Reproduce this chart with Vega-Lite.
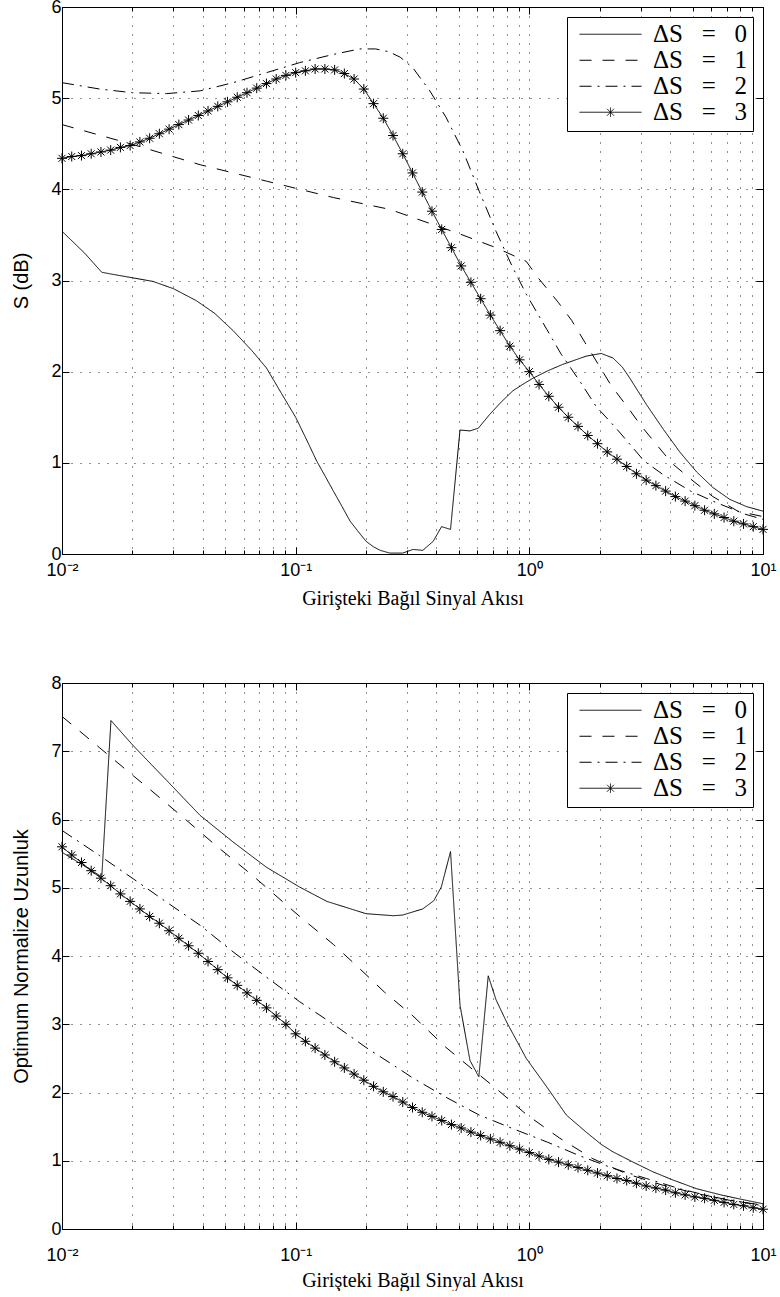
{
"$schema": "https://vega.github.io/schema/vega-lite/v6.json",
"background": "white",
"padding": {"left": 11, "top": -3, "right": 10, "bottom": 0},
"config": {
  "view": {"stroke": "black", "strokeWidth": 1},
  "axis": {"labelFont": "Liberation Sans", "labelFontSize": 18, "labelColor": "black", "titleFont": "Liberation Sans", "titleFontSize": 20, "titleFontWeight": "normal", "titleColor": "black", "domainColor": "black", "tickColor": "black", "gridColor": "#222", "gridDash": [1, 8], "gridOpacity": 1, "gridWidth": 1}
},
"spacing": 64,
"resolve": {"legend": {"strokeDash": "independent"}},
"datasets": {
"top": [
{"s":0,"x":0.01,"y":3.54},{"s":0,"x":0.0125,"y":3.30},{"s":0,"x":0.0148,"y":3.09},{"s":0,"x":0.0163,"y":3.07},{"s":0,"x":0.02,"y":3.03},{"s":0,"x":0.0245,"y":2.99},{"s":0,"x":0.03,"y":2.91},{"s":0,"x":0.0375,"y":2.78},{"s":0,"x":0.045,"y":2.64},{"s":0,"x":0.054,"y":2.45},{"s":0,"x":0.065,"y":2.23},{"s":0,"x":0.075,"y":2.04},{"s":0,"x":0.087,"y":1.76},{"s":0,"x":0.1,"y":1.50},{"s":0,"x":0.112,"y":1.24},{"s":0,"x":0.123,"y":1.02},{"s":0,"x":0.134,"y":0.85},{"s":0,"x":0.145,"y":0.69},{"s":0,"x":0.158,"y":0.52},{"s":0,"x":0.171,"y":0.36},{"s":0,"x":0.186,"y":0.24},{"s":0,"x":0.2,"y":0.14},{"s":0,"x":0.215,"y":0.08},{"s":0,"x":0.23,"y":0.04},{"s":0,"x":0.253,"y":0.01},{"s":0,"x":0.287,"y":0.01},{"s":0,"x":0.318,"y":0.05},{"s":0,"x":0.35,"y":0.04},{"s":0,"x":0.388,"y":0.14},{"s":0,"x":0.421,"y":0.30},{"s":0,"x":0.46,"y":0.27},{"s":0,"x":0.505,"y":1.36},{"s":0,"x":0.557,"y":1.35},{"s":0,"x":0.605,"y":1.38},{"s":0,"x":0.676,"y":1.53},{"s":0,"x":0.76,"y":1.67},{"s":0,"x":0.85,"y":1.79},{"s":0,"x":0.95,"y":1.87},{"s":0,"x":1.04,"y":1.93},{"s":0,"x":1.2,"y":2.01},{"s":0,"x":1.39,"y":2.08},{"s":0,"x":1.75,"y":2.17},{"s":0,"x":2.03,"y":2.20},{"s":0,"x":2.28,"y":2.15},{"s":0,"x":2.5,"y":2.05},{"s":0,"x":2.69,"y":1.93},{"s":0,"x":3.17,"y":1.64},{"s":0,"x":3.74,"y":1.37},{"s":0,"x":4.4,"y":1.12},{"s":0,"x":5.2,"y":0.90},{"s":0,"x":6.1,"y":0.73},{"s":0,"x":7.2,"y":0.60},{"s":0,"x":8.5,"y":0.52},{"s":0,"x":10,"y":0.47},
{"s":1,"x":0.01,"y":4.71},{"s":1,"x":0.0202,"y":4.49},{"s":1,"x":0.039,"y":4.27},{"s":1,"x":0.075,"y":4.09},{"s":1,"x":0.145,"y":3.91},{"s":1,"x":0.253,"y":3.78},{"s":1,"x":0.318,"y":3.69},{"s":1,"x":0.505,"y":3.51},{"s":1,"x":0.72,"y":3.36},{"s":1,"x":0.97,"y":3.21},{"s":1,"x":1.09,"y":3.03},{"s":1,"x":1.33,"y":2.76},{"s":1,"x":1.52,"y":2.56},{"s":1,"x":1.73,"y":2.32},{"s":1,"x":2.25,"y":1.84},{"s":1,"x":2.6,"y":1.63},{"s":1,"x":2.98,"y":1.42},{"s":1,"x":3.5,"y":1.20},{"s":1,"x":4.1,"y":0.99},{"s":1,"x":4.97,"y":0.81},{"s":1,"x":6.1,"y":0.63},{"s":1,"x":7.8,"y":0.47},{"s":1,"x":10,"y":0.41},
{"s":2,"x":0.01,"y":5.17},{"s":2,"x":0.0145,"y":5.10},{"s":2,"x":0.02,"y":5.06},{"s":2,"x":0.028,"y":5.05},{"s":2,"x":0.039,"y":5.08},{"s":2,"x":0.054,"y":5.17},{"s":2,"x":0.075,"y":5.28},{"s":2,"x":0.104,"y":5.39},{"s":2,"x":0.145,"y":5.48},{"s":2,"x":0.188,"y":5.54},{"s":2,"x":0.22,"y":5.54},{"s":2,"x":0.25,"y":5.51},{"s":2,"x":0.28,"y":5.45},{"s":2,"x":0.318,"y":5.33},{"s":2,"x":0.375,"y":5.08},{"s":2,"x":0.44,"y":4.79},{"s":2,"x":0.52,"y":4.42},{"s":2,"x":0.61,"y":3.98},{"s":2,"x":0.72,"y":3.54},{"s":2,"x":0.85,"y":3.14},{"s":2,"x":0.97,"y":2.85},{"s":2,"x":1.19,"y":2.46},{"s":2,"x":1.37,"y":2.19},{"s":2,"x":1.64,"y":1.90},{"s":2,"x":1.93,"y":1.62},{"s":2,"x":2.37,"y":1.37},{"s":2,"x":3.1,"y":1.02},{"s":2,"x":3.74,"y":0.87},{"s":2,"x":4.9,"y":0.69},{"s":2,"x":6.1,"y":0.58},{"s":2,"x":8.3,"y":0.44},{"s":2,"x":10,"y":0.38},
{"s":3,"x":0.01,"y":4.34},{"s":3,"x":0.011007,"y":4.36},{"s":3,"x":0.012115,"y":4.37},{"s":3,"x":0.013335,"y":4.39},{"s":3,"x":0.014678,"y":4.41},{"s":3,"x":0.016156,"y":4.43},{"s":3,"x":0.017783,"y":4.46},{"s":3,"x":0.019573,"y":4.48},{"s":3,"x":0.021544,"y":4.52},{"s":3,"x":0.023714,"y":4.56},{"s":3,"x":0.026102,"y":4.61},{"s":3,"x":0.02873,"y":4.66},{"s":3,"x":0.031623,"y":4.71},{"s":3,"x":0.034807,"y":4.76},{"s":3,"x":0.038312,"y":4.81},{"s":3,"x":0.04217,"y":4.86},{"s":3,"x":0.046416,"y":4.91},{"s":3,"x":0.05109,"y":4.96},{"s":3,"x":0.056234,"y":5.01},{"s":3,"x":0.061897,"y":5.06},{"s":3,"x":0.068129,"y":5.11},{"s":3,"x":0.074989,"y":5.16},{"s":3,"x":0.08254,"y":5.21},{"s":3,"x":0.090852,"y":5.25},{"s":3,"x":0.1,"y":5.28},{"s":3,"x":0.11007,"y":5.30},{"s":3,"x":0.12115,"y":5.32},{"s":3,"x":0.13335,"y":5.32},{"s":3,"x":0.14678,"y":5.31},{"s":3,"x":0.16156,"y":5.27},{"s":3,"x":0.17783,"y":5.21},{"s":3,"x":0.19573,"y":5.10},{"s":3,"x":0.21544,"y":4.94},{"s":3,"x":0.23714,"y":4.78},{"s":3,"x":0.26102,"y":4.59},{"s":3,"x":0.2873,"y":4.39},{"s":3,"x":0.31623,"y":4.18},{"s":3,"x":0.34807,"y":3.97},{"s":3,"x":0.38312,"y":3.76},{"s":3,"x":0.4217,"y":3.56},{"s":3,"x":0.46416,"y":3.36},{"s":3,"x":0.5109,"y":3.16},{"s":3,"x":0.56234,"y":2.98},{"s":3,"x":0.61897,"y":2.80},{"s":3,"x":0.68129,"y":2.62},{"s":3,"x":0.74989,"y":2.45},{"s":3,"x":0.8254,"y":2.28},{"s":3,"x":0.90852,"y":2.13},{"s":3,"x":1.0,"y":2.00},{"s":3,"x":1.1007,"y":1.86},{"s":3,"x":1.2115,"y":1.73},{"s":3,"x":1.3335,"y":1.61},{"s":3,"x":1.4678,"y":1.50},{"s":3,"x":1.6156,"y":1.40},{"s":3,"x":1.7783,"y":1.30},{"s":3,"x":1.9573,"y":1.21},{"s":3,"x":2.1544,"y":1.12},{"s":3,"x":2.3714,"y":1.04},{"s":3,"x":2.6102,"y":0.96},{"s":3,"x":2.873,"y":0.88},{"s":3,"x":3.1623,"y":0.81},{"s":3,"x":3.4807,"y":0.75},{"s":3,"x":3.8312,"y":0.69},{"s":3,"x":4.217,"y":0.63},{"s":3,"x":4.6416,"y":0.58},{"s":3,"x":5.109,"y":0.53},{"s":3,"x":5.6234,"y":0.48},{"s":3,"x":6.1897,"y":0.44},{"s":3,"x":6.8129,"y":0.40},{"s":3,"x":7.4989,"y":0.36},{"s":3,"x":8.254,"y":0.33},{"s":3,"x":9.0852,"y":0.30},{"s":3,"x":10,"y":0.27}
],
"bot": [
{"s":0,"x":0.01,"y":5.52},{"s":0,"x":0.0148,"y":5.16},{"s":0,"x":0.0162,"y":7.45},{"s":0,"x":0.0202,"y":7.08},{"s":0,"x":0.0281,"y":6.57},{"s":0,"x":0.039,"y":6.06},{"s":0,"x":0.054,"y":5.67},{"s":0,"x":0.075,"y":5.30},{"s":0,"x":0.104,"y":5.01},{"s":0,"x":0.136,"y":4.80},{"s":0,"x":0.2,"y":4.62},{"s":0,"x":0.262,"y":4.59},{"s":0,"x":0.287,"y":4.60},{"s":0,"x":0.35,"y":4.69},{"s":0,"x":0.39,"y":4.81},{"s":0,"x":0.42,"y":5.01},{"s":0,"x":0.46,"y":5.53},{"s":0,"x":0.505,"y":3.28},{"s":0,"x":0.557,"y":2.47},{"s":0,"x":0.608,"y":2.23},{"s":0,"x":0.667,"y":3.71},{"s":0,"x":0.72,"y":3.36},{"s":0,"x":0.8,"y":3.03},{"s":0,"x":0.97,"y":2.50},{"s":0,"x":1.2,"y":2.06},{"s":0,"x":1.44,"y":1.67},{"s":0,"x":1.75,"y":1.42},{"s":0,"x":2.03,"y":1.24},{"s":0,"x":2.28,"y":1.13},{"s":0,"x":2.78,"y":0.98},{"s":0,"x":3.37,"y":0.84},{"s":0,"x":4.1,"y":0.72},{"s":0,"x":5.2,"y":0.59},{"s":0,"x":6.6,"y":0.50},{"s":0,"x":7.95,"y":0.44},{"s":0,"x":10,"y":0.37},
{"s":1,"x":0.01,"y":7.51},{"s":1,"x":0.0145,"y":7.05},{"s":1,"x":0.0202,"y":6.64},{"s":1,"x":0.0238,"y":6.44},{"s":1,"x":0.033,"y":6.03},{"s":1,"x":0.0459,"y":5.61},{"s":1,"x":0.0659,"y":5.17},{"s":1,"x":0.0857,"y":4.83},{"s":1,"x":0.104,"y":4.58},{"s":1,"x":0.145,"y":4.17},{"s":1,"x":0.182,"y":3.86},{"s":1,"x":0.24,"y":3.47},{"s":1,"x":0.318,"y":3.12},{"s":1,"x":0.44,"y":2.66},{"s":1,"x":0.59,"y":2.30},{"s":1,"x":0.72,"y":2.06},{"s":1,"x":0.97,"y":1.68},{"s":1,"x":1.35,"y":1.33},{"s":1,"x":1.87,"y":1.03},{"s":1,"x":2.6,"y":0.81},{"s":1,"x":3.74,"y":0.64},{"s":1,"x":5.2,"y":0.52},{"s":1,"x":7.2,"y":0.42},{"s":1,"x":10,"y":0.35},
{"s":2,"x":0.01,"y":5.84},{"s":2,"x":0.0145,"y":5.47},{"s":2,"x":0.0202,"y":5.13},{"s":2,"x":0.028,"y":4.79},{"s":2,"x":0.039,"y":4.45},{"s":2,"x":0.054,"y":4.06},{"s":2,"x":0.075,"y":3.69},{"s":2,"x":0.104,"y":3.33},{"s":2,"x":0.145,"y":3.00},{"s":2,"x":0.2,"y":2.66},{"s":2,"x":0.279,"y":2.34},{"s":2,"x":0.318,"y":2.21},{"s":2,"x":0.44,"y":1.93},{"s":2,"x":0.61,"y":1.67},{"s":2,"x":0.85,"y":1.47},{"s":2,"x":1.2,"y":1.27},{"s":2,"x":1.65,"y":1.07},{"s":2,"x":2.28,"y":0.89},{"s":2,"x":3.17,"y":0.74},{"s":2,"x":4.4,"y":0.59},{"s":2,"x":6.1,"y":0.47},{"s":2,"x":10,"y":0.34},
{"s":3,"x":0.01,"y":5.60},{"s":3,"x":0.011007,"y":5.48},{"s":3,"x":0.012115,"y":5.37},{"s":3,"x":0.013335,"y":5.25},{"s":3,"x":0.014678,"y":5.14},{"s":3,"x":0.016156,"y":5.03},{"s":3,"x":0.017783,"y":4.91},{"s":3,"x":0.019573,"y":4.80},{"s":3,"x":0.021544,"y":4.69},{"s":3,"x":0.023714,"y":4.58},{"s":3,"x":0.026102,"y":4.48},{"s":3,"x":0.02873,"y":4.37},{"s":3,"x":0.031623,"y":4.26},{"s":3,"x":0.034807,"y":4.15},{"s":3,"x":0.038312,"y":4.04},{"s":3,"x":0.04217,"y":3.92},{"s":3,"x":0.046416,"y":3.80},{"s":3,"x":0.05109,"y":3.68},{"s":3,"x":0.056234,"y":3.57},{"s":3,"x":0.061897,"y":3.46},{"s":3,"x":0.068129,"y":3.35},{"s":3,"x":0.074989,"y":3.24},{"s":3,"x":0.08254,"y":3.12},{"s":3,"x":0.090852,"y":3.00},{"s":3,"x":0.1,"y":2.86},{"s":3,"x":0.11007,"y":2.75},{"s":3,"x":0.12115,"y":2.65},{"s":3,"x":0.13335,"y":2.55},{"s":3,"x":0.14678,"y":2.45},{"s":3,"x":0.16156,"y":2.36},{"s":3,"x":0.17783,"y":2.27},{"s":3,"x":0.19573,"y":2.18},{"s":3,"x":0.21544,"y":2.09},{"s":3,"x":0.23714,"y":2.01},{"s":3,"x":0.26102,"y":1.94},{"s":3,"x":0.2873,"y":1.86},{"s":3,"x":0.31623,"y":1.78},{"s":3,"x":0.34807,"y":1.71},{"s":3,"x":0.38312,"y":1.65},{"s":3,"x":0.4217,"y":1.59},{"s":3,"x":0.46416,"y":1.53},{"s":3,"x":0.5109,"y":1.48},{"s":3,"x":0.56234,"y":1.42},{"s":3,"x":0.61897,"y":1.37},{"s":3,"x":0.68129,"y":1.32},{"s":3,"x":0.74989,"y":1.27},{"s":3,"x":0.8254,"y":1.22},{"s":3,"x":0.90852,"y":1.17},{"s":3,"x":1.0,"y":1.12},{"s":3,"x":1.1007,"y":1.07},{"s":3,"x":1.2115,"y":1.02},{"s":3,"x":1.3335,"y":0.98},{"s":3,"x":1.4678,"y":0.94},{"s":3,"x":1.6156,"y":0.90},{"s":3,"x":1.7783,"y":0.86},{"s":3,"x":1.9573,"y":0.82},{"s":3,"x":2.1544,"y":0.78},{"s":3,"x":2.3714,"y":0.74},{"s":3,"x":2.6102,"y":0.71},{"s":3,"x":2.873,"y":0.67},{"s":3,"x":3.1623,"y":0.63},{"s":3,"x":3.4807,"y":0.60},{"s":3,"x":3.8312,"y":0.57},{"s":3,"x":4.217,"y":0.53},{"s":3,"x":4.6416,"y":0.50},{"s":3,"x":5.109,"y":0.47},{"s":3,"x":5.6234,"y":0.45},{"s":3,"x":6.1897,"y":0.42},{"s":3,"x":6.8129,"y":0.39},{"s":3,"x":7.4989,"y":0.36},{"s":3,"x":8.254,"y":0.34},{"s":3,"x":9.0852,"y":0.31},{"s":3,"x":10,"y":0.29}
]
},
"vconcat": [
{
  "width": 701, "height": 547,
  "data": {"name": "top"},
  "resolve": {"axis": {"x": "independent", "y": "independent"}},
  "layer": [
    {
      "mark": {"type": "line", "color": "black", "strokeWidth": 1, "clip": true},
      "encoding": {
        "x": {"field": "x", "type": "quantitative", "scale": {"type": "log", "domain": [0.01, 10], "nice": false},
          "axis": {"orient": "bottom", "values": [0.01,0.02,0.03,0.04,0.05,0.06,0.07,0.08,0.09,0.1,0.2,0.3,0.4,0.5,0.6,0.7,0.8,0.9,1,2,3,4,5,6,7,8,9,10], "grid": true,
            "tickSize": {"condition": {"test": "indexof([0.01,0.1,1,10], datum.value) >= 0", "value": -7}, "value": -4},
            "labelExpr": "datum.value == 0.01 ? '10⁻²' : datum.value == 0.1 ? '10⁻¹' : datum.value == 1 ? '10⁰' : datum.value == 10 ? '10¹' : ''",
            "labelPadding": 14, "labelFlush": false, "labelOverlap": false, "labelBound": false,
            "title": "Girişteki Bağıl Sinyal Akısı", "titleFont": "Liberation Serif", "titleFontSize": 20, "titlePadding": 6}},
        "y": {"field": "y", "type": "quantitative", "scale": {"domain": [0, 6], "nice": false, "zero": false},
          "axis": {"orient": "left", "values": [0,1,2,3,4,5,6], "grid": true, "tickSize": -7, "labelPadding": 8, "title": "S (dB)", "titlePadding": 19}},
        "strokeDash": {"field": "s", "type": "nominal", "scale": {"domain": [0,1,2,3], "range": [[1,0],[12,11],[12,6,2,6],[1,0]]},
          "legend": {"title": null, "orient": "top-right", "offset": 10, "padding": 5, "strokeColor": "black", "fillColor": "white",
            "symbolType": "stroke", "symbolSize": 3844, "symbolStrokeWidth": 1, "symbolStrokeColor": "black", "symbolOffset": 7,
            "labelFont": "Liberation Serif", "labelFontSize": 25, "labelColor": "black", "labelExpr": "'ΔS\u2002\u2005=\u2002\u2005' + datum.label",
            "clipHeight": 24.5, "rowPadding": 0, "labelOffset": 11, "labelLimit": 300,
            "encode": {"symbols": {"update": {"shape": {"signal": "datum.value == 3 ? 'M-1,0L1,0M0,-0.15L0,0.15M-0.11,-0.11L0.11,0.11M-0.11,0.11L0.11,-0.11' : 'stroke'"}}}}}}
      }
    },
    {
      "transform": [{"filter": "datum.s == 3"}],
      "mark": {"type": "point", "shape": "M0,-1L0,1M-1,0L1,0M-0.7,-0.7L0.7,0.7M-0.7,0.7L0.7,-0.7", "size": 100, "filled": false, "stroke": "black", "strokeWidth": 1, "opacity": 1},
      "encoding": {
        "x": {"field": "x", "type": "quantitative",
          "axis": {"orient": "top", "values": [0.01,0.02,0.03,0.04,0.05,0.06,0.07,0.08,0.09,0.1,0.2,0.3,0.4,0.5,0.6,0.7,0.8,0.9,1,2,3,4,5,6,7,8,9,10], "grid": false, "labels": false, "title": null,
            "tickSize": {"condition": {"test": "indexof([0.01,0.1,1,10], datum.value) >= 0", "value": -7}, "value": -4}}},
        "y": {"field": "y", "type": "quantitative",
          "axis": {"orient": "right", "values": [0,1,2,3,4,5,6], "grid": false, "labels": false, "title": null, "tickSize": -7}}
      }
    }
  ]
},
{
  "width": 701, "height": 546,
  "data": {"name": "bot"},
  "resolve": {"axis": {"x": "independent", "y": "independent"}},
  "layer": [
    {
      "mark": {"type": "line", "color": "black", "strokeWidth": 1, "clip": true},
      "encoding": {
        "x": {"field": "x", "type": "quantitative", "scale": {"type": "log", "domain": [0.01, 10], "nice": false},
          "axis": {"orient": "bottom", "values": [0.01,0.02,0.03,0.04,0.05,0.06,0.07,0.08,0.09,0.1,0.2,0.3,0.4,0.5,0.6,0.7,0.8,0.9,1,2,3,4,5,6,7,8,9,10], "grid": true,
            "tickSize": {"condition": {"test": "indexof([0.01,0.1,1,10], datum.value) >= 0", "value": -7}, "value": -4},
            "labelExpr": "datum.value == 0.01 ? '10⁻²' : datum.value == 0.1 ? '10⁻¹' : datum.value == 1 ? '10⁰' : datum.value == 10 ? '10¹' : ''",
            "labelPadding": 24, "labelFlush": false, "labelOverlap": false, "labelBound": false,
            "title": "Girişteki Bağıl Sinyal Akısı", "titleFont": "Liberation Serif", "titleFontSize": 20, "titlePadding": 3}},
        "y": {"field": "y", "type": "quantitative", "scale": {"domain": [0, 8], "nice": false, "zero": false},
          "axis": {"orient": "left", "values": [0,1,2,3,4,5,6,7,8], "grid": true, "tickSize": -7, "labelPadding": 8, "title": "Optimum Normalize Uzunluk", "titlePadding": 19}},
        "strokeDash": {"field": "s", "type": "nominal", "scale": {"domain": [0,1,2,3], "range": [[1,0],[12,11],[12,6,2,6],[1,0]]},
          "legend": {"title": null, "orient": "top-right", "offset": 10, "padding": 5, "strokeColor": "black", "fillColor": "white",
            "symbolType": "stroke", "symbolSize": 3844, "symbolStrokeWidth": 1, "symbolStrokeColor": "black", "symbolOffset": 7,
            "labelFont": "Liberation Serif", "labelFontSize": 25, "labelColor": "black", "labelExpr": "'ΔS\u2002\u2005=\u2002\u2005' + datum.label",
            "clipHeight": 24.5, "rowPadding": 0, "labelOffset": 11, "labelLimit": 300,
            "encode": {"symbols": {"update": {"shape": {"signal": "datum.value == 3 ? 'M-1,0L1,0M0,-0.15L0,0.15M-0.11,-0.11L0.11,0.11M-0.11,0.11L0.11,-0.11' : 'stroke'"}}}}}}
      }
    },
    {
      "transform": [{"filter": "datum.s == 3"}],
      "mark": {"type": "point", "shape": "M0,-1L0,1M-1,0L1,0M-0.7,-0.7L0.7,0.7M-0.7,0.7L0.7,-0.7", "size": 100, "filled": false, "stroke": "black", "strokeWidth": 1, "opacity": 1},
      "encoding": {
        "x": {"field": "x", "type": "quantitative",
          "axis": {"orient": "top", "values": [0.01,0.02,0.03,0.04,0.05,0.06,0.07,0.08,0.09,0.1,0.2,0.3,0.4,0.5,0.6,0.7,0.8,0.9,1,2,3,4,5,6,7,8,9,10], "grid": false, "labels": false, "title": null,
            "tickSize": {"condition": {"test": "indexof([0.01,0.1,1,10], datum.value) >= 0", "value": -7}, "value": -4}}},
        "y": {"field": "y", "type": "quantitative",
          "axis": {"orient": "right", "values": [0,1,2,3,4,5,6,7,8], "grid": false, "labels": false, "title": null, "tickSize": -7}}
      }
    }
  ]
}
]
}
